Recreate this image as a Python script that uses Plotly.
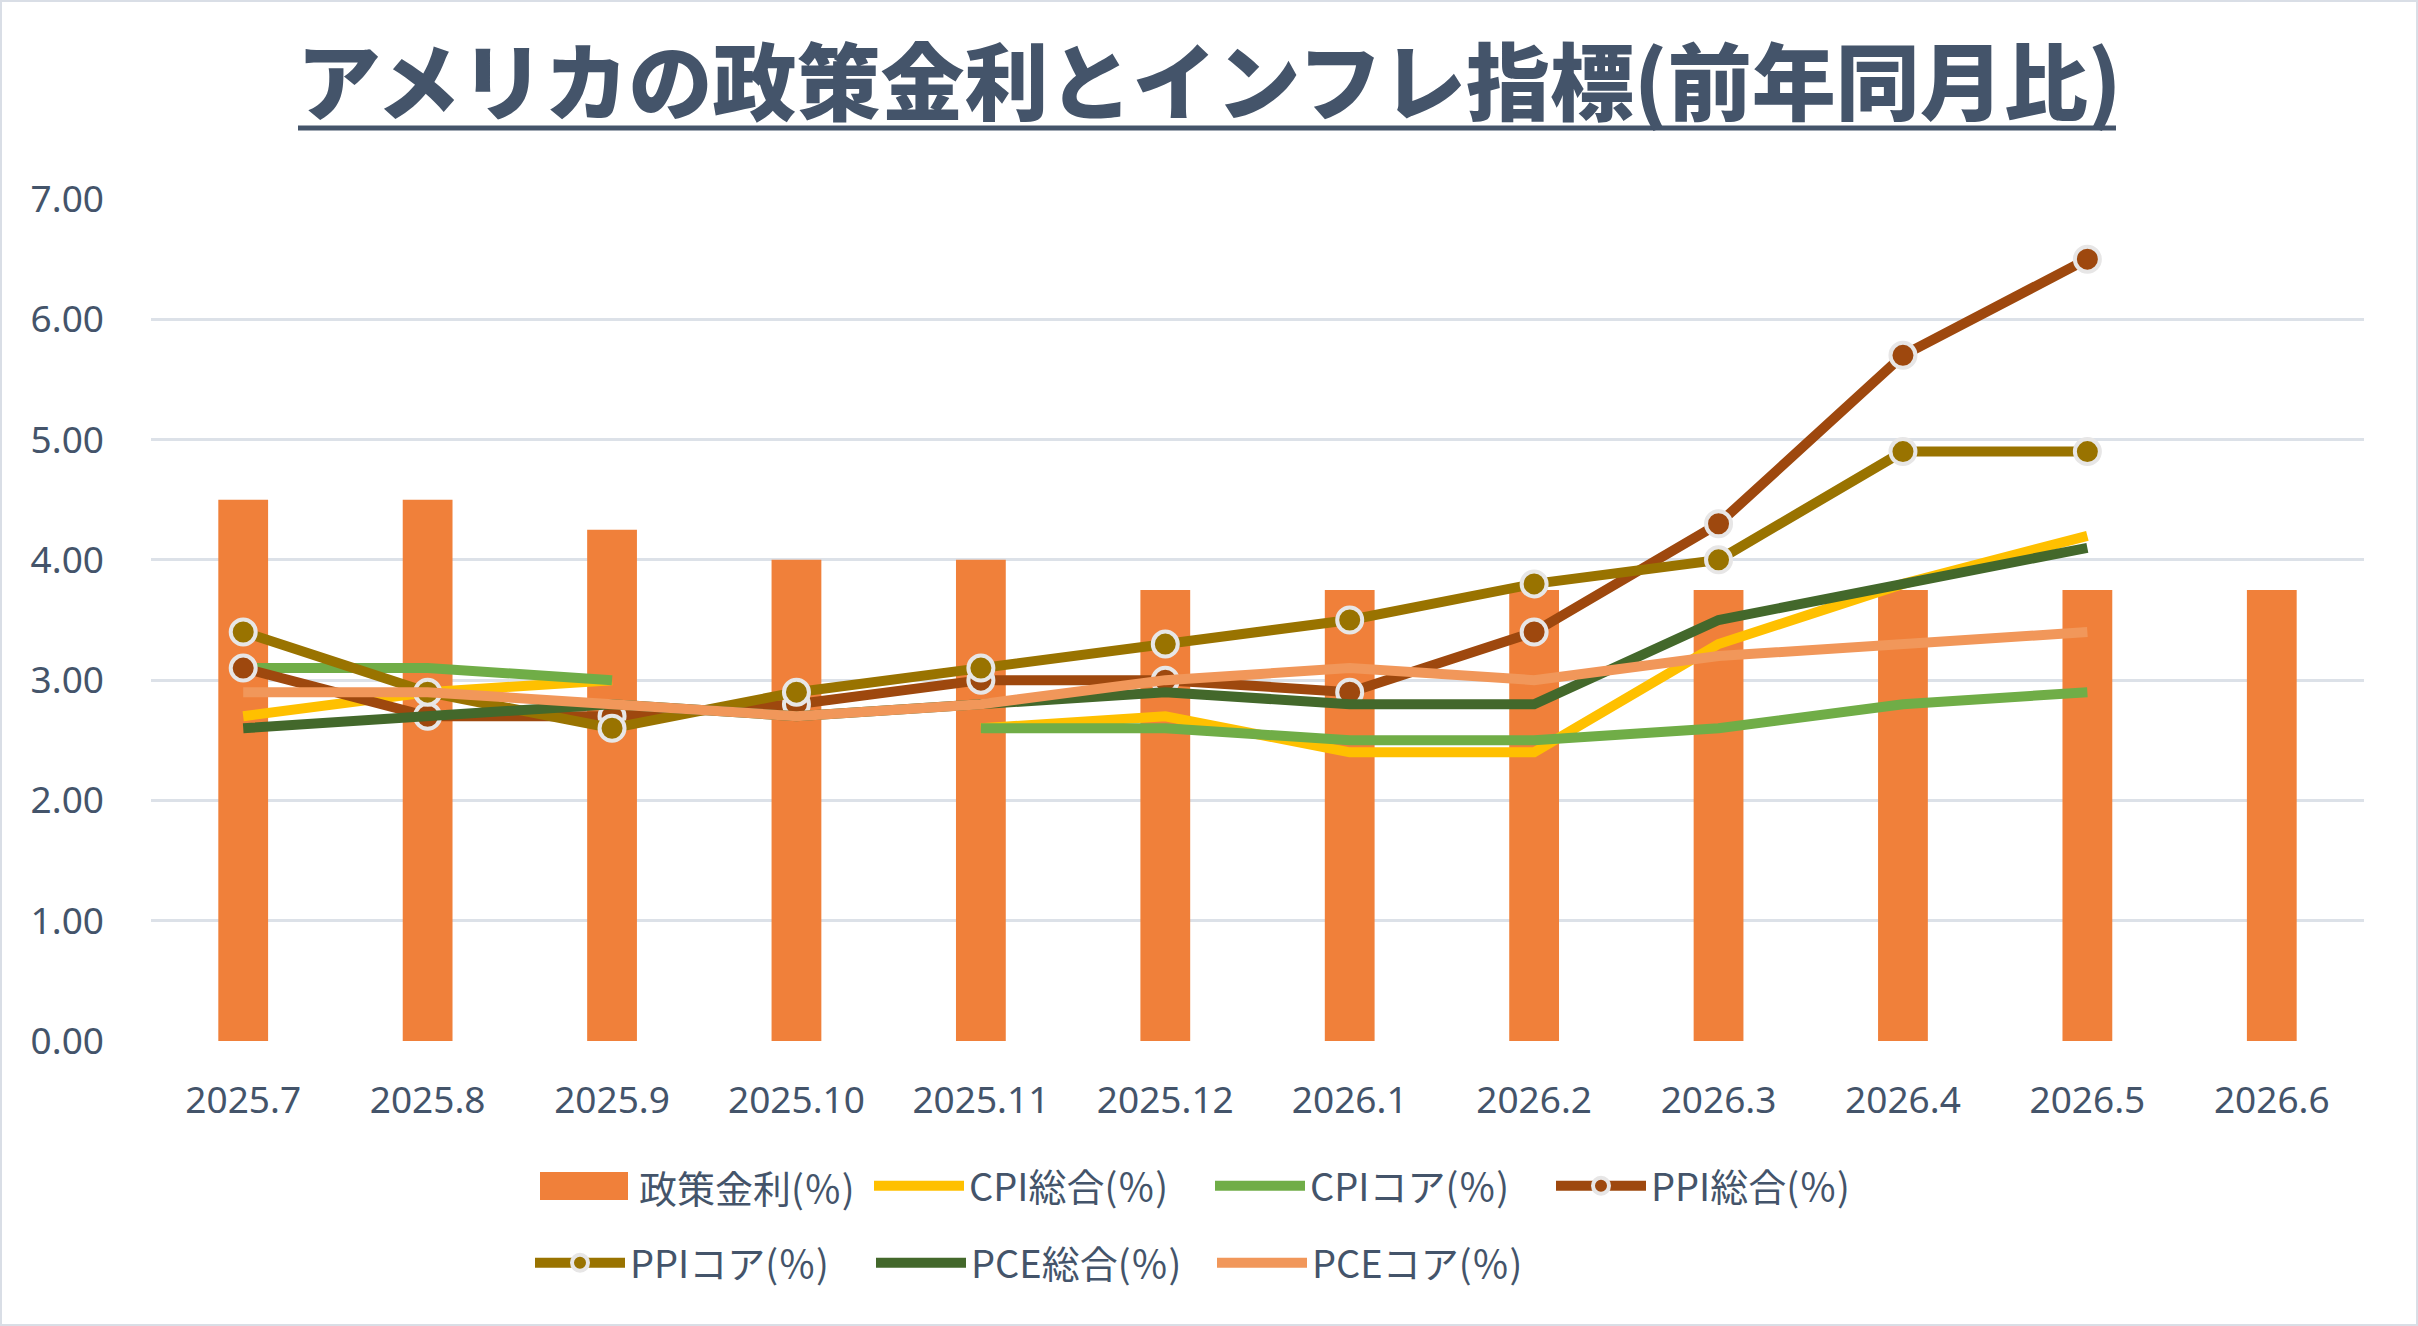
import plotly.graph_objects as go

months = ["2025.7", "2025.8", "2025.9", "2025.10", "2025.11", "2025.12",
          "2026.1", "2026.2", "2026.3", "2026.4", "2026.5", "2026.6"]
policy_rate = [4.50, 4.50, 4.25, 4.00, 4.00, 3.75, 3.75, 3.75, 3.75, 3.75, 3.75, 3.75]
cpi_total = [2.7, 2.9, 3.0, None, 2.6, 2.7, 2.4, 2.4, 3.3, 3.8, 4.2, None]
cpi_core = [3.1, 3.1, 3.0, None, 2.6, 2.6, 2.5, 2.5, 2.6, 2.8, 2.9, None]
ppi_total = [3.1, 2.7, 2.7, 2.8, 3.0, 3.0, 2.9, 3.4, 4.3, 5.7, 6.5, None]
ppi_core = [3.4, 2.9, 2.6, 2.9, 3.1, 3.3, 3.5, 3.8, 4.0, 4.9, 4.9, None]
pce_total = [2.6, 2.7, 2.8, 2.7, 2.8, 2.9, 2.8, 2.8, 3.5, 3.8, 4.1, None]
pce_core = [2.9, 2.9, 2.8, 2.7, 2.8, 3.0, 3.1, 3.0, 3.2, 3.3, 3.4, None]
y_ticks = [0, 1, 2, 3, 4, 5, 6, 7]

TEXT = "#44546A"
GRID = "#DCE1E8"
BAR = "#F0803A"
W, H = 2418, 1326
ML, MR, MT, MB = 151, 54, 199, 285
PW, PH = W - ML - MR, H - MT - MB

def px_x(x):
    return (x - ML) / PW

def px_y(y):
    return (H - MB - y) / PH

LEG_FONT = dict(family="Noto Sans CJK JP", size=38, color=TEXT)

fig = go.Figure()
fig.add_trace(go.Bar(x=months, y=policy_rate, name="政策金利(％)", width=0.27,
                     marker=dict(color=BAR, line=dict(width=0)), showlegend=False))

LW = 10
line_series = [
    ("CPI総合(％)", cpi_total, "#FFC000", False, "legend"),
    ("CPIコア(％)", cpi_core, "#70AD47", False, "legend"),
    ("PPI総合(％)", ppi_total, "#9E480E", True, "legend"),
    ("PPIコア(％)", ppi_core, "#997300", True, "legend2"),
    ("PCE総合(％)", pce_total, "#43682B", False, "legend2"),
    ("PCEコア(％)", pce_core, "#F1975A", False, "legend2"),
]
for name, vals, col, mk, lg in line_series:
    fig.add_trace(go.Scatter(
        x=months, y=vals, name=name, mode="lines+markers" if mk else "lines",
        line=dict(color=col, width=LW),
        marker=dict(size=25, color=col, line=dict(color="#E7E6E6", width=4)) if mk else None,
        connectgaps=False, legend=lg))

legend_common = dict(orientation="h", xanchor="left", yanchor="middle",
                     font=LEG_FONT,
                     itemwidth=90, entrywidth=236, entrywidthmode="pixels",
                     bgcolor="rgba(0,0,0,0)", traceorder="normal", tracegroupgap=0,
                     itemclick=False, itemdoubleclick=False)

fig.update_layout(
    width=W, height=H,
    margin=dict(l=ML, r=MR, t=MT, b=MB),
    paper_bgcolor="white", plot_bgcolor="white",
    title=dict(text="アメリカの政策金利とインフレ指標(前年同月比)",
               x=0.5, xref="container", xanchor="center", y=1 - 85 / H, yanchor="middle",
               font=dict(family="Noto Sans CJK JP", size=84, color=TEXT, weight=900)),
    showlegend=True,
    legend=dict(x=px_x(869), y=px_y(1186), **legend_common),
    legend2=dict(x=px_x(530), y=px_y(1263), **legend_common),
    xaxis=dict(type="category", categoryarray=months, categoryorder="array",
               range=[-0.5, len(months) - 0.5],
               showgrid=False, showline=False, zeroline=False, ticks="",
               ticklabelstandoff=34,
               tickfont=dict(family="Noto Sans", size=37, color=TEXT)),
    yaxis=dict(range=[0, 7], tickvals=y_ticks, tickformat=".2f",
               showgrid=True, gridcolor=GRID, gridwidth=2.5, zeroline=False,
               showline=False, ticks="", ticklabelstandoff=46,
               tickfont=dict(family="Noto Sans", size=37, color=TEXT)),
    hovermode=False,
    shapes=[
        dict(type="line", xref="paper", yref="paper",
             x0=px_x(298), x1=px_x(2116), y0=px_y(128), y1=px_y(128),
             line=dict(color=TEXT, width=5)),
        dict(type="rect", xref="paper", yref="paper",
             x0=px_x(1), x1=px_x(W - 1), y0=px_y(1), y1=px_y(H - 1),
             line=dict(color="#D9DEE6", width=2), layer="below"),
        # legend swatch for the policy-rate bars
        dict(type="rect", xref="paper", yref="paper",
             x0=px_x(540), x1=px_x(628), y0=px_y(1200), y1=px_y(1172),
             fillcolor=BAR, line=dict(width=0)),
    ],
    annotations=[
        dict(text="政策金利(％)", xref="paper", yref="paper",
             x=px_x(637), y=px_y(1186), xanchor="left", yanchor="middle",
             showarrow=False, font=LEG_FONT),
    ],
)

fig.write_html("out.html")
